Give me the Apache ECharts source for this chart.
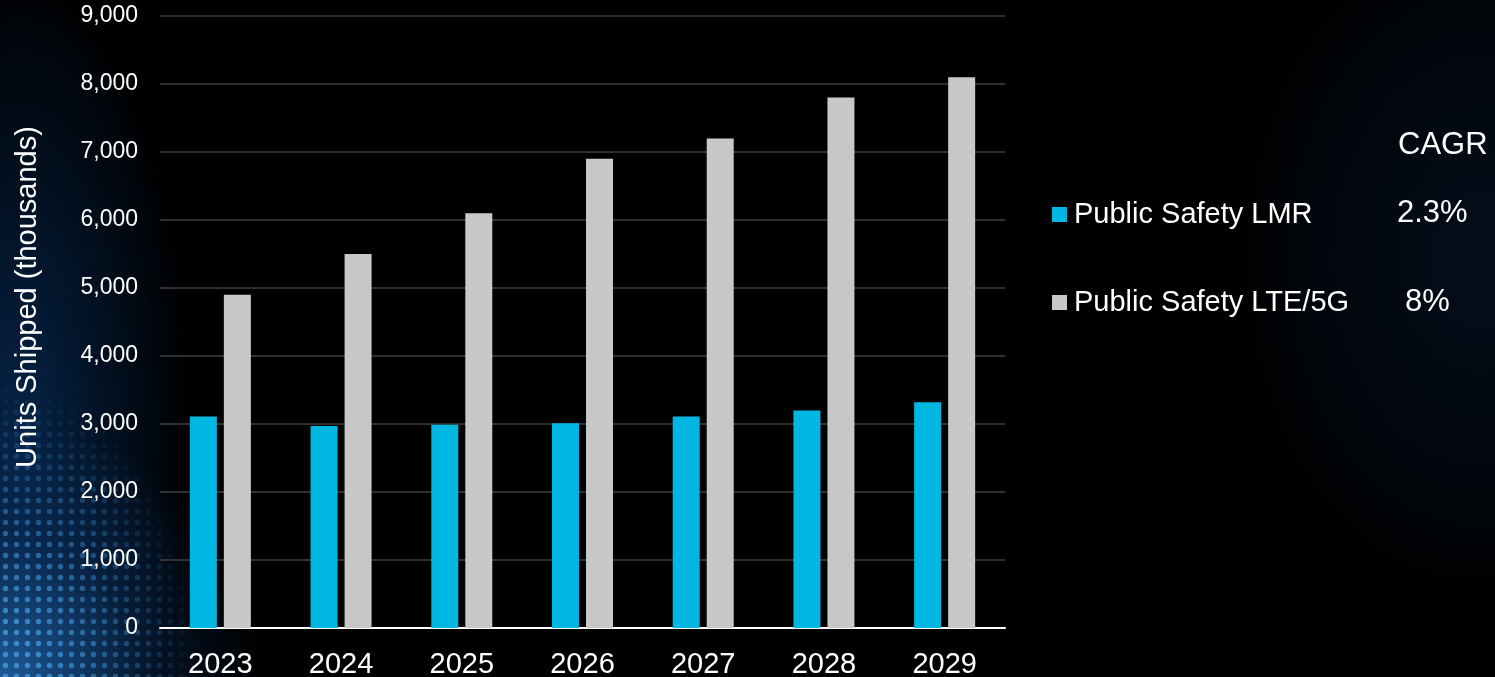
<!DOCTYPE html>
<html>
<head>
<meta charset="utf-8">
<script src="https://cdn.jsdelivr.net/npm/echarts@6/dist/echarts.min.js"></script>
<style>
html,body{margin:0;padding:0;width:1495px;height:677px;overflow:hidden;background:#000;}
#bg{position:absolute;left:0;top:0;width:1495px;height:677px;
background:
radial-gradient(ellipse 260px 260px at 0px 677px, rgba(40,120,200,0.7), rgba(15,60,120,0.35) 55%, rgba(0,0,0,0) 100%),
radial-gradient(ellipse 170px 460px at 20px 430px, rgba(10,70,140,0.5), rgba(0,0,0,0) 100%),
radial-gradient(ellipse 260px 360px at 1480px 260px, rgba(10,40,80,0.35), rgba(0,0,0,0) 100%),
#000;}
#dots{position:absolute;left:0;top:330px;width:200px;height:347px;
background-image:radial-gradient(circle, rgba(70,160,230,0.75) 2.2px, rgba(0,0,0,0) 3.2px);
background-size:11px 11px;
-webkit-mask-image:radial-gradient(ellipse 200px 300px at 0px 347px, #000 20%, rgba(0,0,0,0) 100%);
mask-image:radial-gradient(ellipse 200px 300px at 0px 347px, #000 20%, rgba(0,0,0,0) 100%);}
#chart{position:absolute;left:0;top:0;width:1495px;height:677px;}
</style>
</head>
<body>
<div id="bg"></div>
<div id="dots"></div>
<div id="chart"></div>
<script>
const categories = ['2023','2024','2025','2026','2027','2028','2029'];
const lmrValues = [3110, 2970, 2990, 3010, 3110, 3200, 3320];
const lteValues = [4900, 5500, 6100, 6900, 7200, 7800, 8100];
const seriesNames = ['Public Safety LMR', 'Public Safety LTE/5G'];
const cagrTitle = 'CAGR';
const cagrValues = ['2.3%', '8%'];

const chart = echarts.init(document.getElementById('chart'), null, {renderer:'canvas'});
const font = 'Liberation Sans, Arial, sans-serif';
chart.setOption({
  backgroundColor: 'transparent',
  animation: false,
  grid: {left: 160, right: 490, top: 16, bottom: 49, containLabel: false, outerBoundsMode: 'none'},
  legend: {
    orient: 'vertical', left: 1052, top: 200, itemWidth: 15, itemHeight: 15,
    itemGap: 59, icon: 'rect', padding: 0,
    textStyle: {color: '#ffffff', fontSize: 29, fontFamily: font, padding:[0,0,0,2]},
    data: seriesNames
  },
  xAxis: {
    type: 'category', data: categories,
    axisLine: {lineStyle: {color: '#ffffff', width: 2}},
    axisTick: {show: false},
    axisLabel: {color: '#ffffff', fontSize: 29, fontFamily: font, margin: 22}
  },
  yAxis: {
    type: 'value', min: 0, max: 9000, interval: 1000,
    name: 'Units Shipped (thousands)', nameLocation: 'middle', nameGap: 118,
    nameTextStyle: {color: '#ffffff', fontSize: 29, fontFamily: font, padding: [0, 0, 0, 50]},
    axisLine: {show: false}, axisTick: {show: false},
    axisLabel: {color: '#ffffff', fontSize: 23, fontFamily: font, margin: 22,
      formatter: v => v.toLocaleString('en-US')},
    splitLine: {lineStyle: {color: '#404040', width: 1.5}}
  },
  series: [
    {name: seriesNames[0], type: 'bar', data: lmrValues, barWidth: 27, barGap: '26%',
     itemStyle: {color: '#00b7e2'}},
    {name: seriesNames[1], type: 'bar', data: lteValues, barWidth: 27,
     itemStyle: {color: '#c8c8c8'}}
  ],
  graphic: [
    {type: 'text', left: 1398, top: 130, style: {text: cagrTitle, fill: '#ffffff', font: '31px ' + font}},
    {type: 'text', left: 1397, top: 198, style: {text: cagrValues[0], fill: '#ffffff', font: '31px ' + font}},
    {type: 'text', left: 1405, top: 287, style: {text: cagrValues[1], fill: '#ffffff', font: '31px ' + font}}
  ]
});
</script>
</body>
</html>
